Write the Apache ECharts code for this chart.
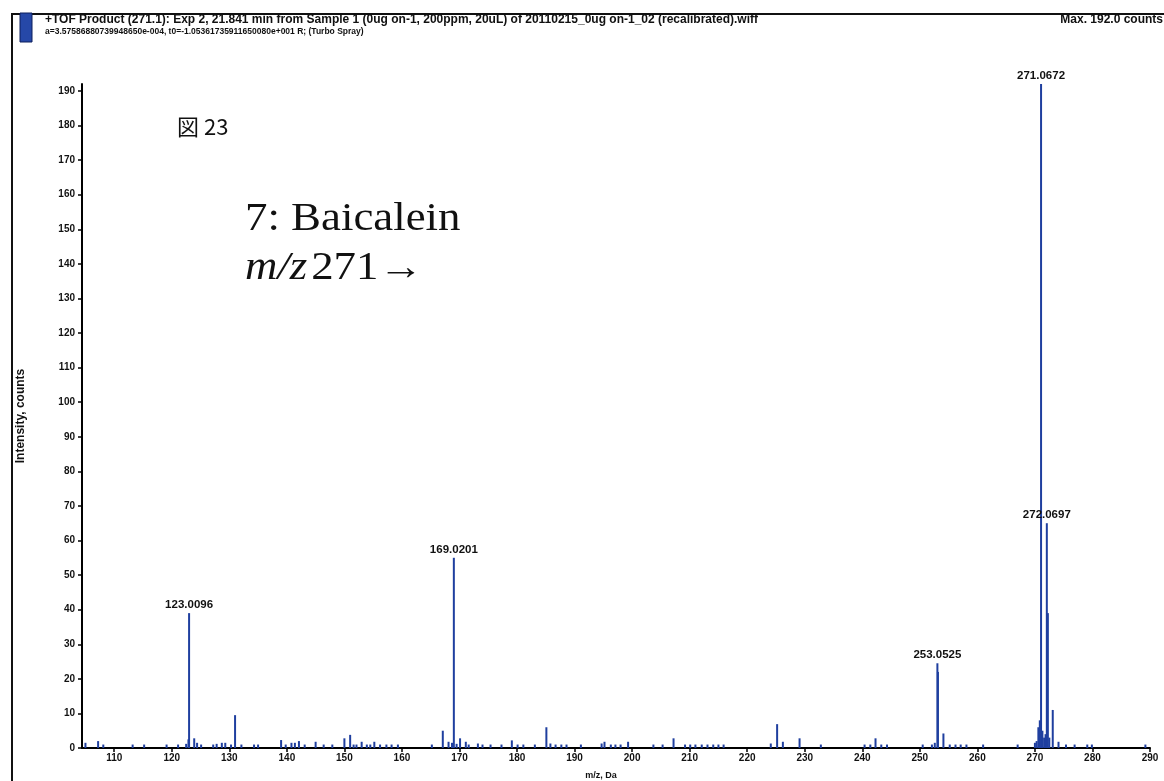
<!DOCTYPE html>
<html><head><meta charset="utf-8">
<script src="https://cdn.jsdelivr.net/npm/echarts@6/dist/echarts.min.js"></script>
<style>html,body{margin:0;padding:0;background:#fff}#c{width:1164px;height:781px}</style>
</head><body><div id="c"></div>
<script>
// m/z of each stick (Da)
const mzValues = [105.0,107.2,108.1,113.2,115.2,119.1,121.1,122.5,122.9,123.0096,123.9,124.4,125.1,127.2,127.8,128.7,129.3,130.3,131.0,132.1,134.3,135.0,
  139.0,139.8,140.8,141.4,142.1,143.1,145.0,146.4,147.9,150.0,151.0,151.6,152.1,153.0,153.9,154.5,155.2,156.2,157.3,158.2,159.3,
  165.2,167.1,168.1,168.7,169.0201,169.5,170.1,171.1,171.6,173.2,174.0,175.4,177.3,179.1,180.1,181.1,183.1,185.1,185.8,186.7,187.7,188.6,
  191.1,194.7,195.2,196.3,197.1,198.0,199.3,203.7,205.3,207.2,209.2,210.1,211.0,212.1,213.1,214.1,215.0,215.9,
  224.1,225.2,226.2,229.1,232.8,240.4,241.4,242.3,243.3,244.3,250.5,252.1,252.6,253.0525,253.15,254.1,255.2,256.2,257.1,258.1,261.0,267.0,
  270.0,270.3,270.6,270.85,271.0672,271.3,271.6,271.85,272.0697,272.25,272.5,273.1,274.1,275.4,276.9,279.1,279.9,289.2];
// intensity of each stick (counts)
const intensities = [1.5,2,1,1,1,1,1,1.2,2.5,39,2.8,1.5,1,1,1.2,1.5,1.5,1,9.5,1,1,1,
  2.3,1,1.5,1.5,2,1,1.8,1,1,2.8,3.8,1,1,1.8,1,1,1.8,1,1,1,1,
  1,5,1.8,1.5,55,1.2,2.8,1.8,1,1.3,1,1,1,2.2,1,1,1,6,1.3,1,1,1,
  1,1.3,1.8,1,1,1,1.8,1,1,2.8,1,1,1,1,1,1,1,1,
  1.3,6.9,1.8,2.8,1,1,1,2.8,1,1,1,1,1.5,24.5,22,4.2,1,1,1,1,1,1,
  1.5,2,6,8,192,5,3,4,65,39,3,11,1.8,1,1,1,1,1];
// annotated peaks
const labelledMz = [123.0096, 169.0201, 253.0525, 271.0672, 272.0697];
const labelledText = ['123.0096', '169.0201', '253.0525', '271.0672', '272.0697'];
// axis ticks
const xTicks = [110,120,130,140,150,160,170,180,190,200,210,220,230,240,250,260,270,280,290];
const yTicks = [0,10,20,30,40,50,60,70,80,90,100,110,120,130,140,150,160,170,180,190];

const data = mzValues.map((m, i) => {
  const k = labelledMz.indexOf(m);
  const item = { value: [m, intensities[i]] };
  if (k >= 0) item.label = { show: true, formatter: labelledText[k] };
  return item;
});

const SANS = '"Liberation Sans", Arial, sans-serif';
const SERIF = '"Liberation Serif", "DejaVu Serif", serif';
const tickFont = { fontFamily: SANS, fontSize: 10, fontWeight: 'bold', color: '#111' };
const chart = echarts.init(document.getElementById('c'), null, { renderer: 'canvas' });
chart.setOption({
  backgroundColor: '#fff',
  animation: false,
  grid: { left: 82, right: 14, top: 84, bottom: 33, containLabel: false, outerBoundsMode: 'none' },
  xAxis: {
    type: 'value', min: 104.4, max: 290,
    name: 'm/z, Da', nameLocation: 'middle', nameGap: 23,
    nameTextStyle: { fontFamily: SANS, fontSize: 9, fontWeight: 'bold', color: '#111', padding: [0, 30, 0, 0] },
    axisLine: { lineStyle: { color: '#000', width: 2 } },
    axisTick: { customValues: xTicks, length: 4, lineStyle: { color: '#000', width: 1.5 } },
    axisLabel: Object.assign({ customValues: xTicks, margin: 5 }, tickFont),
    splitLine: { show: false }
  },
  yAxis: {
    type: 'value', min: 0, max: 192,
    name: 'Intensity, counts', nameLocation: 'middle', nameGap: 55, nameRotate: 90,
    nameTextStyle: { fontFamily: SANS, fontSize: 12, fontWeight: 'bold', color: '#111' },
    axisLine: { show: true, lineStyle: { color: '#000', width: 2 } },
    axisTick: { show: true, customValues: yTicks, length: 4, lineStyle: { color: '#000', width: 1.5 } },
    axisLabel: Object.assign({ customValues: yTicks, margin: 7 }, tickFont),
    splitLine: { show: false }
  },
  series: [{
    type: 'bar', barWidth: 2, data: data,
    itemStyle: { color: '#1f3f9f' },
    label: { show: false, position: 'top', distance: 2, fontFamily: SANS, fontSize: 11.5, fontWeight: 'bold', color: '#111' }
  }],
  graphic: [
    { type: 'rect', shape: { x: 12, y: 13, width: 1152, height: 2 }, style: { fill: '#111' } },
    { type: 'rect', shape: { x: 11, y: 13, width: 2, height: 768 }, style: { fill: '#111' } },
    { type: 'rect', shape: { x: 20, y: 13, width: 12, height: 29 }, style: { fill: '#2648a8', stroke: '#0d1f5c', lineWidth: 1 } },
    { type: 'text', left: 45, top: 14, style: { text: '+TOF Product (271.1): Exp 2, 21.841 min from Sample 1 (0ug on-1, 200ppm, 20uL) of 20110215_0ug on-1_02 (recalibrated).wiff', font: 'bold 12px ' + SANS, fill: '#111' } },
    { type: 'text', left: 45, top: 27, style: { text: 'a=3.57586880739948650e-004, t0=-1.05361735911650080e+001 R; (Turbo Spray)', font: 'bold 8.5px ' + SANS, fill: '#111' } },
    { type: 'text', right: 1, top: 14, style: { text: 'Max. 192.0 counts', font: 'bold 12px ' + SANS, fill: '#111' } },
    { type: 'text', left: 177, top: 116, style: { text: '図 23', font: '22px "Noto Sans CJK JP", "Noto Sans", sans-serif', fill: '#111' } },
    { type: 'text', x: 245, y: 220, scaleX: 1.15, style: { text: '7: Baicalein', font: '39px ' + SERIF, fill: '#111', verticalAlign: 'middle' } },
    { type: 'text', x: 245, y: 269, scaleX: 1.15, style: {
        text: '{i|m/z} {n|271→}', verticalAlign: 'middle',
        rich: {
          i: { font: 'italic 39px ' + SERIF, fill: '#111' },
          n: { font: '39px ' + SERIF, fill: '#111' }
        } } }
  ]
});
</script>
</body></html>
